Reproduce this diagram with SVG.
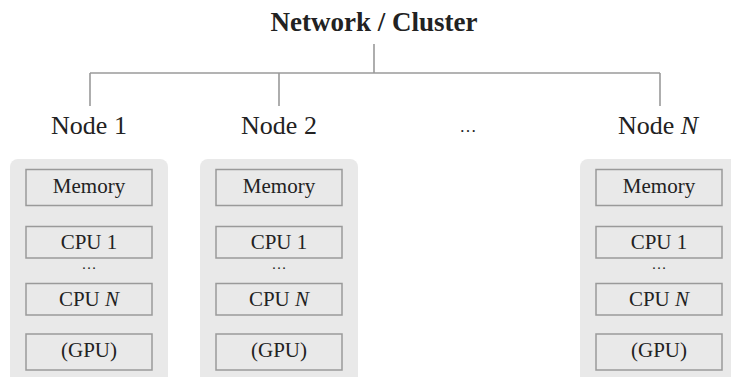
<svg xmlns="http://www.w3.org/2000/svg" width="731" height="377" viewBox="0 0 731 377">
<style>
.t{font-family:"Liberation Serif","Times New Roman",serif;fill:#222;text-anchor:middle}
.title{font-size:27px;font-weight:bold}
.lbl{font-size:26px}
.box{font-size:21px}
.dots{font-size:15px}
.dotsL{font-size:17px}
.panel{fill:#e9e9e9}
.cell{fill:#e9e9e9;stroke:#9a9a9a;stroke-width:1.5}
.ln{stroke:#9a9a9a;stroke-width:1.6;fill:none}
</style>
<rect width="731" height="377" fill="#fff"/>
<g id="title"><text class="t title" x="374" y="31">Network / Cluster</text></g>
<g id="connectors">
<path class="ln" d="M374 44V73M90 73H660M90 73V106M279 73V106M660 73V106"/>
</g>
<g id="node1">
<text class="t lbl" x="89" y="134">Node 1</text>
<rect class="panel" x="10" y="159" width="158" height="230" rx="8"/>
<rect class="cell" x="26" y="169.5" width="126" height="36"/>
<text class="t box" x="89" y="193">Memory</text>
<rect class="cell" x="26" y="226.5" width="126" height="31.5"/>
<text class="t box" x="89" y="249">CPU 1</text>
<text class="t dots" x="89" y="268.5">…</text>
<rect class="cell" x="26" y="283.5" width="126" height="31.5"/>
<text class="t box" x="89" y="306">CPU <tspan font-style="italic">N</tspan></text>
<rect class="cell" x="26" y="334" width="126" height="36"/>
<text class="t box" x="89" y="357">(GPU)</text>
</g>
<g id="node2">
<text class="t lbl" x="279" y="134">Node 2</text>
<rect class="panel" x="200" y="159" width="158" height="230" rx="8"/>
<rect class="cell" x="216" y="169.5" width="126" height="36"/>
<text class="t box" x="279" y="193">Memory</text>
<rect class="cell" x="216" y="226.5" width="126" height="31.5"/>
<text class="t box" x="279" y="249">CPU 1</text>
<text class="t dots" x="279" y="268.5">…</text>
<rect class="cell" x="216" y="283.5" width="126" height="31.5"/>
<text class="t box" x="279" y="306">CPU <tspan font-style="italic">N</tspan></text>
<rect class="cell" x="216" y="334" width="126" height="36"/>
<text class="t box" x="279" y="357">(GPU)</text>
</g>
<g id="ellipsis"><text class="t dotsL" x="468" y="132">…</text></g>
<g id="nodeN">
<text class="t lbl" x="658" y="134">Node <tspan font-style="italic">N</tspan></text>
<rect class="panel" x="580" y="159" width="158" height="230" rx="8"/>
<rect class="cell" x="596" y="169.5" width="126" height="36"/>
<text class="t box" x="659" y="193">Memory</text>
<rect class="cell" x="596" y="226.5" width="126" height="31.5"/>
<text class="t box" x="659" y="249">CPU 1</text>
<text class="t dots" x="659" y="268.5">…</text>
<rect class="cell" x="596" y="283.5" width="126" height="31.5"/>
<text class="t box" x="659" y="306">CPU <tspan font-style="italic">N</tspan></text>
<rect class="cell" x="596" y="334" width="126" height="36"/>
<text class="t box" x="659" y="357">(GPU)</text>
</g>
</svg>
